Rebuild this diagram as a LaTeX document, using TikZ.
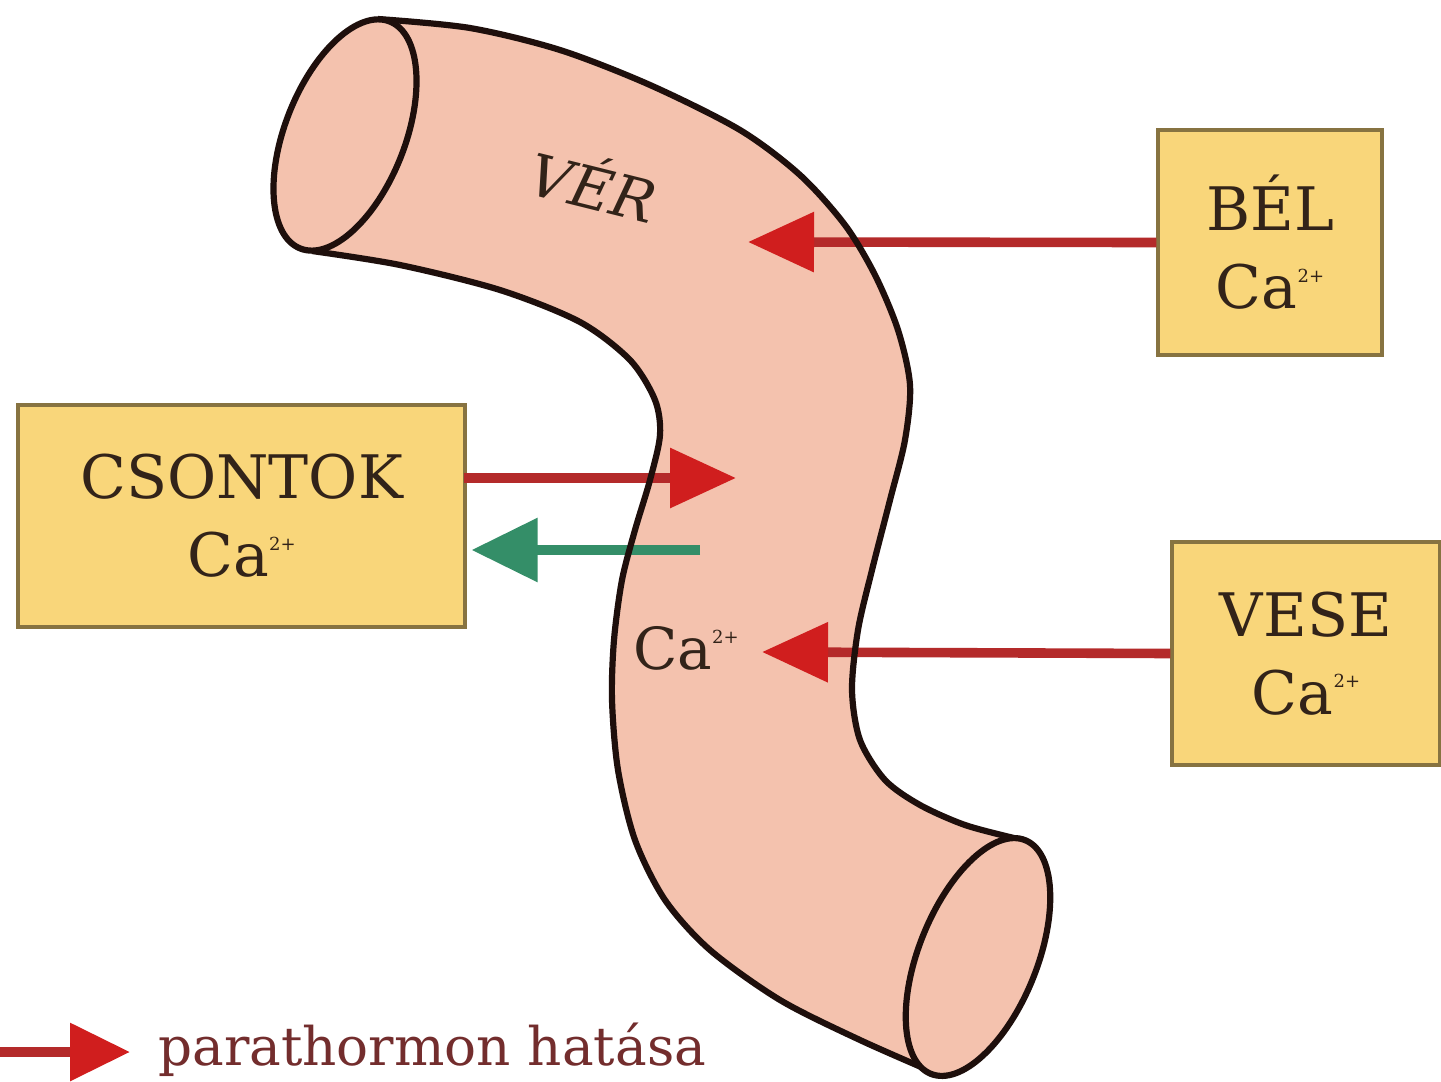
\documentclass[tikz,border=0pt]{standalone}
\usepackage{fontspec}
\setmainfont{DejaVu Serif}
\usetikzlibrary{arrows.meta,calc}
\definecolor{tubefill}{RGB}{244,194,174}
\definecolor{tubeline}{RGB}{30,15,12}
\definecolor{boxfill}{RGB}{249,214,122}
\definecolor{boxline}{RGB}{135,115,65}
\definecolor{shaftred}{RGB}{180,42,42}
\definecolor{headred}{RGB}{208,30,30}
\definecolor{shaftgreen}{RGB}{52,142,104}
\definecolor{labeltext}{RGB}{50,35,25}
\definecolor{legendtext}{RGB}{115,45,45}
\newcommand{\caion}{Ca\raisebox{0.85ex}{\fontsize{9}{9}\selectfont 2+}}
\tikzset{
  organ/.style={draw=boxline, fill=boxfill, line width=1.6pt, align=center,
    text=labeltext, font=\fontsize{30}{39}\selectfont, inner sep=0pt},
  pthflow/.style={draw=shaftred, line width=4.8pt,
    -{Triangle[length=33pt, width=29pt, color=headred]}},
  backflow/.style={draw=shaftgreen, line width=4.8pt,
    -{Triangle[length=33pt, width=31pt, color=shaftgreen]}},
  vessel/.style={draw=tubeline, line width=3.1pt},
}
\begin{document}
\begin{tikzpicture}[x=0.5pt,y=0.5pt]
\useasboundingbox (0,0) rectangle (1441,-1082);
\fill[white] (0,0) rectangle (1441,-1082);

% blood vessel body
\fill[tubefill]
  plot[smooth] coordinates {(378,-19) (470,-28) (560,-50) (650,-85) (740,-130)
    (800,-175) (845,-225) (875,-275) (898,-330) (910,-385) (905,-440)
    (890,-500) (872,-570) (858,-630) (852,-690) (860,-740) (885,-780)
    (920,-805) (965,-825) (1014,-838)}
  -- plot[smooth] coordinates {(942,-1076) (860,-1040) (780,-1000) (710,-950)
    (665,-900) (635,-840) (618,-770) (612,-700) (614,-640) (622,-580)
    (635,-530) (650,-480) (660,-435) (655,-400) (630,-360) (580,-322)
    (500,-290) (400,-265) (312,-251)}
  -- cycle;

% labels inside the vessel
\node[text=labeltext, font=\itshape\fontsize{29}{29}\selectfont, rotate=-14]
  (ver) at (594,-183) {VÉR};
\node[text=labeltext, font=\fontsize{29}{29}\selectfont] (caver) at (686,-648) {\caion};

% organs holding calcium
\node[organ, minimum width=112pt, minimum height=112.5pt] (bel) at (1270,-242.5)
  {BÉL\\\caion};
\node[organ, minimum width=223.5pt, minimum height=111pt] (csontok) at (241.5,-516)
  {CSONTOK\\\caion};
\node[organ, minimum width=134pt, minimum height=111.5pt] (vese) at (1306,-653.5)
  {VESE\\\caion};

% calcium flows
\coordinate (belin) at (748,-242);
\coordinate (csin) at (736,-478);
\coordinate (csout) at (700,-550);
\coordinate (vesein) at (762,-652);

\draw[pthflow] (bel.west) -- (belin);
\draw[pthflow] ($(csontok.east)+(-3,38)$) -- (csin);
\draw[backflow] (csout) -- ($(csontok.east)+(5,-34)$);
\draw[pthflow] (vese.west) -- (vesein);

% vessel walls and open ends
\draw[vessel] plot[smooth] coordinates {(378,-19) (470,-28) (560,-50) (650,-85)
    (740,-130) (800,-175) (845,-225) (875,-275) (898,-330) (910,-385)
    (905,-440) (890,-500) (872,-570) (858,-630) (852,-690) (860,-740)
    (885,-780) (920,-805) (965,-825) (1014,-838)};
\draw[vessel] plot[smooth] coordinates {(312,-251) (400,-265) (500,-290)
    (580,-322) (630,-360) (655,-400) (660,-435) (650,-480) (635,-530)
    (622,-580) (614,-640) (612,-700) (618,-770) (635,-840) (665,-900)
    (710,-950) (780,-1000) (860,-1040) (942,-1076)};
\draw[vessel, fill=tubefill, rotate around={68.5:(345,-135)}]
  (345,-135) ellipse [x radius=122, y radius=60];
\draw[vessel, fill=tubefill, rotate around={68:(978,-957)}]
  (978,-957) ellipse [x radius=126, y radius=59];

% legend
\coordinate (legstart) at (0,-1052);
\coordinate (legend) at (130,-1052);
\draw[pthflow, -{Triangle[length=30pt, width=28pt, color=headred]}] (legstart) -- (legend);
\node[anchor=west, text=legendtext, font=\fontsize{26.6}{26.6}\selectfont, inner sep=0pt]
  (legtext) at (158,-1050) {parathormon hatása};
\end{tikzpicture}
\end{document}
